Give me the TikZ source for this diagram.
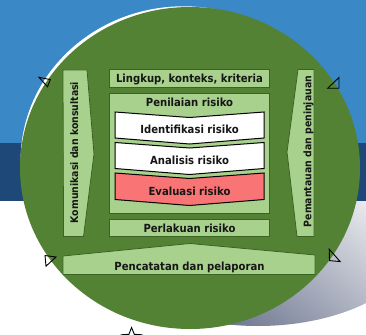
\documentclass[tikz,border=0pt]{standalone}
\usepackage{fontspec}
\usetikzlibrary{shapes.geometric}
\newfontfamily\lblfont{DejaVu Sans Condensed}
\definecolor{skyband}{HTML}{3A88C6}
\definecolor{navyband}{HTML}{1D4877}
\definecolor{discgreen}{HTML}{548235}
\definecolor{panelgreen}{HTML}{A9D18E}
\definecolor{paneledge}{HTML}{3B6324}
\definecolor{evalred}{HTML}{F97575}
\definecolor{shadowtone}{HTML}{56607E}
\definecolor{inktext}{HTML}{161616}
\begin{document}
\begin{tikzpicture}[x=1pt,y=-1pt,
  panel/.style={fill=panelgreen, draw=paneledge, line width=0.8pt},
  chevron/.style={draw=black, line width=1pt, line join=miter},
  label/.style={font=\lblfont\bfseries\fontsize{11.2}{13}\selectfont, text=inktext, inner sep=0pt, anchor=base},
  sidelabel/.style={font=\lblfont\bfseries\fontsize{10.4}{12}\selectfont, text=inktext, inner sep=0pt, anchor=base, rotate=90},
  handle/.style={draw=black, line width=0.9pt, line join=miter}]
\useasboundingbox (0,0) rectangle (366,334);

% background bands
\fill[skyband] (0,0) rectangle (366,143);
\fill[navyband] (0,143) rectangle (366,201);
\fill[white] (0,201) rectangle (366,334);

% soft shadow under the disc
\begin{scope}
  \clip (0,201) rectangle (366,334);
  \shade[bottom color=shadowtone, middle color=white, top color=white, shading angle=-40]
    (258,232) ellipse [x radius=165pt, y radius=94pt];
\end{scope}

% white rim and green disc
\fill[white] (183.6,160.3) ellipse [x radius=163pt, y radius=154pt];
\fill[discgreen] (190,168) ellipse [x radius=170pt, y radius=161pt];

% top box
\node[panel, minimum width=160.5pt, minimum height=18pt, inner sep=0pt] (scopebox) at (189.2,78) {};
\node[label] (scopetxt) at (189.5,82.7) {Lingkup, konteks, kriteria};

% assessment frame
\node[panel, minimum width=160.5pt, minimum height=120pt, inner sep=0pt] (assessbox) at (189.2,153) {};
\node[label] (assesstxt) at (189.5,106.7) {Penilaian risiko};

% assessment steps
\draw[chevron, fill=white] (115,112) -- (189.5,117.5) -- (264,112) -- (264,138) -- (189.5,144) -- (115,138) -- cycle;
\node[label] (identtxt) at (189.5,133) {Identifikasi risiko};
\draw[chevron, fill=white] (115,142.5) -- (189.5,148) -- (264,142.5) -- (264,168.5) -- (189.5,174.5) -- (115,168.5) -- cycle;
\node[label] (analysetxt) at (189.5,164) {Analisis risiko};
\draw[chevron, fill=evalred] (115,173) -- (189.5,178.5) -- (264,173) -- (264,199.5) -- (189.5,205.5) -- (115,199.5) -- cycle;
\node[label] (evaltxt) at (189.5,195) {Evaluasi risiko};

% treatment box
\node[panel, minimum width=160.5pt, minimum height=17pt, inner sep=0pt] (treatbox) at (189.2,227.5) {};
\node[label] (treattxt) at (189.5,232.3) {Perlakuan risiko};

% side arrows
\draw[panel] (63,70) -- (87,70) -- (94,154) -- (83.5,236.5) -- (63.5,236.5) -- cycle;
\node[sidelabel] (commtxt) at (78,152.5) {Komunikasi dan konsultasi};
\draw[panel] (298,69.5) -- (314,69.5) -- (314,236.5) -- (297,236.5) -- (287,152) -- cycle;
\node[sidelabel] (monitortxt) at (311.3,151.5) {Pemantauan dan peninjauan};

% bottom bar
\draw[panel] (63,256) -- (190,243.5) -- (315,255) -- (315,274.5) -- (63,274.5) -- cycle;
\node[label] (recordtxt) at (189.5,270) {Pencatatan dan pelaporan};

% corner handles
\draw[handle] (39,77.3) -- (50.3,79.6) -- (47.5,86.8) -- cycle;
\draw[handle] (339,77.5) -- (339,88.3) -- (327.6,88.3) -- cycle;
\draw[handle] (45,255.5) -- (56,257) -- (46,266.2) -- cycle;
\draw[handle] (329.2,249.2) -- (329.5,260.6) -- (340.2,261.6) -- cycle;
\node[handle, star, star points=5, star point ratio=2.3, minimum size=21pt, inner sep=0pt, fill=white] (rotor) at (131.6,338) {};
\end{tikzpicture}
\end{document}
